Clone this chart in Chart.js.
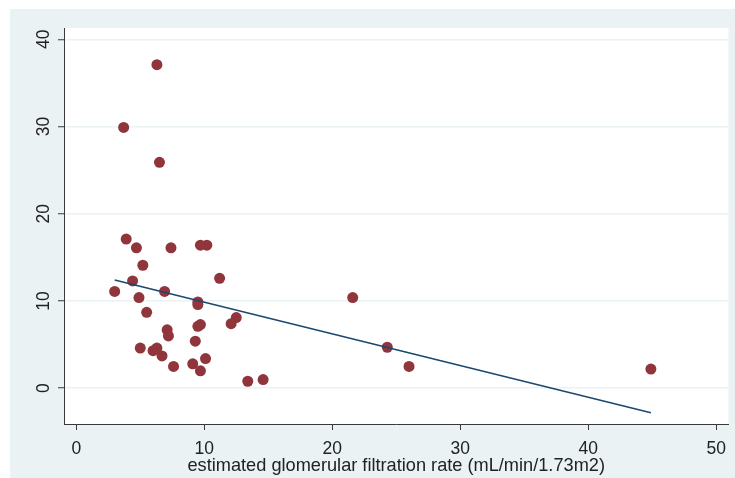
<!DOCTYPE html>
<html>
<head>
<meta charset="utf-8">
<script src="https://cdn.jsdelivr.net/npm/chart.js@4/dist/chart.umd.min.js"></script>
<style>
  html, body { margin: 0; padding: 0; background: #fff; }
  #wrap { width: 735px; height: 478px; }
</style>
</head>
<body>
<div id="wrap"><canvas id="grafico"></canvas></div>
<script>
// datos: eGFR (eje x) contra el valor medido (eje y)
const egfr = [6.3, 3.7, 6.5, 3.9, 4.7, 7.4, 9.7, 10.2, 5.2, 11.2, 4.4, 3.0, 6.9, 4.9, 9.5, 9.5, 5.5, 12.5, 12.1,
  9.7, 9.5, 7.1, 7.2, 9.3, 5.0, 6.0, 6.3, 6.7, 10.1, 9.1, 7.6, 9.7, 13.4, 14.6, 21.6, 24.3, 26.0, 44.9];
const valores = [37.1, 29.9, 25.9, 17.1, 16.1, 16.1, 16.4, 16.4, 14.1, 12.6, 12.3, 11.1, 11.1, 10.4, 9.9, 9.6, 8.7, 8.1, 7.4,
  7.3, 7.1, 6.7, 6.0, 5.4, 4.6, 4.3, 4.6, 3.7, 3.4, 2.8, 2.5, 2.0, 0.8, 1.0, 10.4, 4.7, 2.5, 2.2];

// recta ajustada (extremos)
const ajusteX = [3.0, 44.9];
const ajusteY = [12.4, -2.8];

// marcas de los ejes
const ticksX = [0, 10, 20, 30, 40, 50];
const ticksY = [0, 10, 20, 30, 40];

const tituloX = "estimated glomerular filtration rate (mL/min/1.73m2)";

const fondo = "#EAF2F3";
const colorEje = "#3a3a3a";
const colorTexto = "#222";
const fuente = "'Liberation Sans', Arial, sans-serif";

// fondo gris azulado y area blanca del grafico
const pintarFondo = {
  id: "pintarFondo",
  beforeDraw(chart) {
    const { ctx, chartArea } = chart;
    ctx.save();
    ctx.fillStyle = "#fff";
    ctx.fillRect(0, 0, chart.width, chart.height);
    ctx.fillStyle = fondo;
    ctx.fillRect(10, 9, chart.width - 10, chart.height - 9);
    ctx.fillStyle = "#fff";
    ctx.fillRect(chartArea.left, chartArea.top, chartArea.right - chartArea.left, chartArea.bottom - chartArea.top);
    ctx.restore();
  }
};

// etiquetas del eje y giradas 90 grados
const etiquetasY = {
  id: "etiquetasY",
  afterDraw(chart) {
    const { ctx } = chart;
    const y = chart.scales.y;
    ctx.save();
    ctx.fillStyle = colorTexto;
    ctx.font = "17.5px " + fuente;
    ctx.textAlign = "center";
    ctx.textBaseline = "middle";
    ticksY.forEach((v) => {
      ctx.save();
      ctx.translate(44, y.getPixelForValue(v));
      ctx.rotate(-Math.PI / 2);
      ctx.fillText(String(v), 0, 0);
      ctx.restore();
    });
    ctx.restore();
  }
};

const puntos = egfr.map((x, i) => ({ x: x, y: valores[i] }));
const recta = ajusteX.map((x, i) => ({ x: x, y: ajusteY[i] }));

new Chart(document.getElementById("grafico"), {
  type: "scatter",
  data: {
    datasets: [
      {
        data: puntos,
        backgroundColor: "#90353B",
        borderWidth: 0,
        pointRadius: 5.5,
        order: 2
      },
      {
        type: "line",
        data: recta,
        borderColor: "#1A476F",
        borderWidth: 1.5,
        pointRadius: 0,
        fill: false,
        order: 1
      }
    ]
  },
  options: {
    responsive: true,
    maintainAspectRatio: false,
    animation: false,
    layout: { padding: { left: 10, top: 28, right: 6, bottom: 0 } },
    plugins: { legend: { display: false }, tooltip: { enabled: false } },
    scales: {
      x: {
        type: "linear",
        min: -0.96,
        max: 50.96,
        afterBuildTicks(scale) { scale.ticks = ticksX.map((v) => ({ value: v })); },
        afterFit(scale) { scale.height = 54; },
        grid: { drawOnChartArea: false, drawTicks: true, tickLength: 6, tickColor: colorEje, tickWidth: 1 },
        border: { display: true, color: colorEje, width: 1 },
        ticks: {
          color: colorTexto,
          padding: 9,
          maxRotation: 0,
          font: { family: fuente, size: 17.5 }
        },
        title: {
          display: true,
          text: tituloX,
          color: colorTexto,
          padding: { top: 0, bottom: 1 },
          font: { family: fuente, size: 18.2 }
        }
      },
      y: {
        type: "linear",
        min: -4.1,
        max: 41.3,
        afterBuildTicks(scale) { scale.ticks = ticksY.map((v) => ({ value: v })); },
        afterFit(scale) { scale.width = 54; },
        grid: { color: fondo, lineWidth: 1.5, drawTicks: true, tickLength: 6, tickColor: colorEje, tickWidth: 1 },
        border: { display: true, color: colorEje, width: 1 },
        ticks: { display: false }
      }
    }
  },
  plugins: [pintarFondo, etiquetasY]
});
</script>
</body>
</html>
